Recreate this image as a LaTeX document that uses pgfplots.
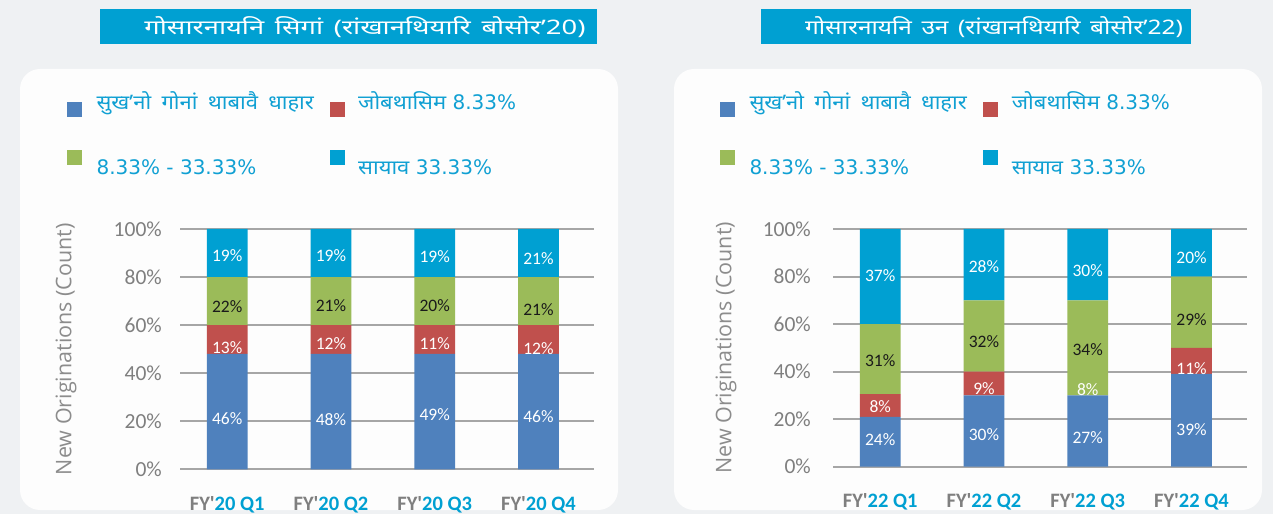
\documentclass[border=0pt]{standalone}
\usepackage{pgfplots}
\pgfplotsset{compat=1.18}
\usepackage{pgfplotstable}
\usepackage{fontspec}
\setmainfont{Carlito}
\newfontfamily\deva[Script=Devanagari, FakeStretch=1.1, WordSpace=1.8]{Noto Sans}
\newfontfamily\devaT[Script=Devanagari, FakeStretch=1.33, WordSpace=1.5]{Noto Sans}
\newfontfamily\dejavu{DejaVu Sans}
\newfontfamily\opensans{Open Sans}
\newfontfamily\carlito{Carlito}
\definecolor{cBlue}{HTML}{4F81BD}
\definecolor{cRed}{HTML}{C0504D}
\definecolor{cGreen}{HTML}{9BBB59}
\definecolor{cCyan}{HTML}{00A0D2}
\definecolor{cTxt}{HTML}{10A0D3}
\definecolor{cGray}{HTML}{7F7F7F}
\definecolor{cYlab}{HTML}{8C8C8C}
\definecolor{cGrid}{HTML}{A6A6A6}
\definecolor{cBg}{HTML}{EFF1F3}
\definecolor{cPanel}{HTML}{FDFDFD}
\definecolor{cDark}{HTML}{1A1A1A}

\pgfplotstableread{
x blue red green cyan
0 48 12 20 20
1 48 12 20 20
2 48 12 20 20
3 48 12 20 20
}\barsA
\pgfplotstableread{
x blue red green cyan
0 21 9.5 29.5 40
1 30 10 30 30
2 30 0 40 30
3 39 11 30 20
}\barsB
\pgfplotstableread{
x y m
0 88.8 19
1 88.8 19
2 88.5 19
3 87.8 21
0 50.8 13
1 52.4 12
2 52.1 11
3 50.3 12
0 21.2 46
1 20.5 48
2 22.9 49
3 21.9 46
}\labAw
\pgfplotstableread{
x y m
0 67.7 22
1 68.1 21
2 68.0 20
3 66.3 21
}\labAd
\pgfplotstableread{
x y m
0 80.4 37
1 84.1 28
2 82.7 30
3 87.9 20
0 25.2 8
1 32.7 9
2 32.3 8
3 41.1 11
0 11.6 24
1 13.7 30
2 12.2 27
3 15.7 39
}\labBw
\pgfplotstableread{
x y m
0 44.6 31
1 52.6 32
2 49.4 34
3 62.0 29
}\labBd

\pgfplotsset{
  barax/.style={
    anchor=south west, scale only axis,
    width=414pt,
    ybar stacked, bar width=40.6pt,
    xmin=-0.455, xmax=3.535, ymin=0, ymax=100,
    axis line style={draw=none},
    ymajorgrids, major grid style={draw=cGrid, line width=2pt},
    major tick length=0pt,
    ytick={0,20,40,60,80,100},
    yticklabels={0\%,20\%,40\%,60\%,80\%,100\%},
    yticklabel style={anchor=east, inner sep=0pt, text=cGray,
      font=\carlito\fontsize{21.5}{21.5}\selectfont},
    xtick={0,1,2,3},
    xticklabel style={anchor=north, inner sep=0pt, yshift=-27pt,
      font=\carlito\bfseries\fontsize{20.5}{20.5}\selectfont},
    every axis y label/.style={at={(rel axis cs:0,0.5)}, anchor=center,
      text=cYlab, font=\opensans\fontsize{21.5}{21.5}\selectfont},
  },
  labax/.style={
    anchor=south west, scale only axis,
    width=414pt,
    xmin=-0.455, xmax=3.535, ymin=0, ymax=100,
    axis lines=none, xtick=\empty, ytick=\empty,
  },
  labw/.style={draw=none, mark=none, point meta=explicit,
    nodes near coords={\pgfmathprintnumber[assume math mode=true]{\pgfplotspointmeta}\%},
    nodes near coords style={anchor=center, inner sep=0pt, text=white,
      font=\carlito\fontsize{17.5}{17.5}\selectfont}},
  labd/.style={labw, nodes near coords style={text=cDark}},
}
\newcommand{\xl}[1]{\textcolor{cGray}{FY\textquotesingle}\textcolor{cCyan}{#1}}
\newcommand{\fdj}{\dejavu\fontsize{20}{20}\selectfont}
\newcommand{\fdv}{\deva\fontsize{20}{20}\selectfont}

\begin{document}
\begin{tikzpicture}[x=1pt,y=1pt]
\useasboundingbox (0,0) rectangle (1273,514);
\fill[cBg] (0,0) rectangle (1273,514);
% panels
\fill[cPanel, rounded corners=20pt] (20,4) rectangle (618,445);
\fill[cPanel, rounded corners=20pt] (674,4) rectangle (1262,445);
% title boxes
\fill[cCyan] (100,469.7) rectangle (597,505);
\fill[cCyan] (761,469.7) rectangle (1191,505);
\node[anchor=base, text=white, font=\devaT\fontsize{20}{20}\selectfont, inner sep=0pt]
  at (365,479) {\scalebox{1.03}[1]{गोसारनायनि सिगां (रांखानथियारि बोसोर’20)}};
\node[anchor=base, text=white, font=\devaT\fontsize{20}{20}\selectfont, inner sep=0pt]
  at (994,479) {\scalebox{0.92}[1]{गोसारनायनि उन (रांखानथियारि बोसोर’22)}};

% legends
\foreach \ox/\tx/\rx/\rtx in {0/96.4/330/358, 653/749.3/982.7/1011.7}{
  \fill[cBlue]  (67+\ox,397.3) rectangle ++(15,14.4);
  \fill[cRed]   (\rx,397.3) rectangle ++(15,14.4);
  \fill[cGreen] (67+\ox,349) rectangle ++(15,15);
  \fill[cCyan]  (\rx,349) rectangle ++(15,15);
  \node[anchor=base west, inner sep=0pt, text=cTxt] at (\tx,404.7)
    {\fdv सुख’नो गोनां थाबावै धाहार};
  \node[anchor=base west, inner sep=0pt, text=cTxt] at (\rtx,404.7)
    {\fdv जोबथासिम\fdj\ 8.33\%};
  \node[anchor=base west, inner sep=0pt, text=cTxt] at (\tx,339)
    {\fdj 8.33\% - 33.33\%};
  \node[anchor=base west, inner sep=0pt, text=cTxt] at (\rtx,339)
    {\fdv सायाव\fdj\ 33.33\%};
}

% left chart
\begin{axis}[barax, at={(180pt,44.7pt)}, height=240.3pt,
  yticklabel style={xshift=-18pt},
  xticklabels={\xl{20 Q1},\xl{20 Q2},\xl{20 Q3},\xl{20 Q4}},
  ylabel={New Originations (Count)},
  ylabel style={xshift=-114pt, rotate=90}]
\addplot[fill=cBlue, draw=none] table[x=x,y=blue]{\barsA};
\addplot[fill=cRed, draw=none] table[x=x,y=red]{\barsA};
\addplot[fill=cGreen, draw=none] table[x=x,y=green]{\barsA};
\addplot[fill=cCyan, draw=none] table[x=x,y=cyan]{\barsA};
\end{axis}
\begin{axis}[labax, at={(180pt,44.7pt)}, height=240.3pt]
\addplot[labw] table[x=x,y=y,meta=m]{\labAw};
\addplot[labd] table[x=x,y=y,meta=m]{\labAd};
\end{axis}

% right chart
\begin{axis}[barax, at={(833pt,47.3pt)}, height=237.7pt,
  yticklabel style={xshift=-22pt},
  xticklabels={\xl{22 Q1},\xl{22 Q2},\xl{22 Q3},\xl{22 Q4}},
  ylabel={New Originations (Count)},
  ylabel style={xshift=-107pt, rotate=90}]
\addplot[fill=cBlue, draw=none] table[x=x,y=blue]{\barsB};
\addplot[fill=cRed, draw=none] table[x=x,y=red]{\barsB};
\addplot[fill=cGreen, draw=none] table[x=x,y=green]{\barsB};
\addplot[fill=cCyan, draw=none] table[x=x,y=cyan]{\barsB};
\end{axis}
\begin{axis}[labax, at={(833pt,47.3pt)}, height=237.7pt]
\addplot[labw] table[x=x,y=y,meta=m]{\labBw};
\addplot[labd] table[x=x,y=y,meta=m]{\labBd};
\end{axis}
\end{tikzpicture}
\end{document}
